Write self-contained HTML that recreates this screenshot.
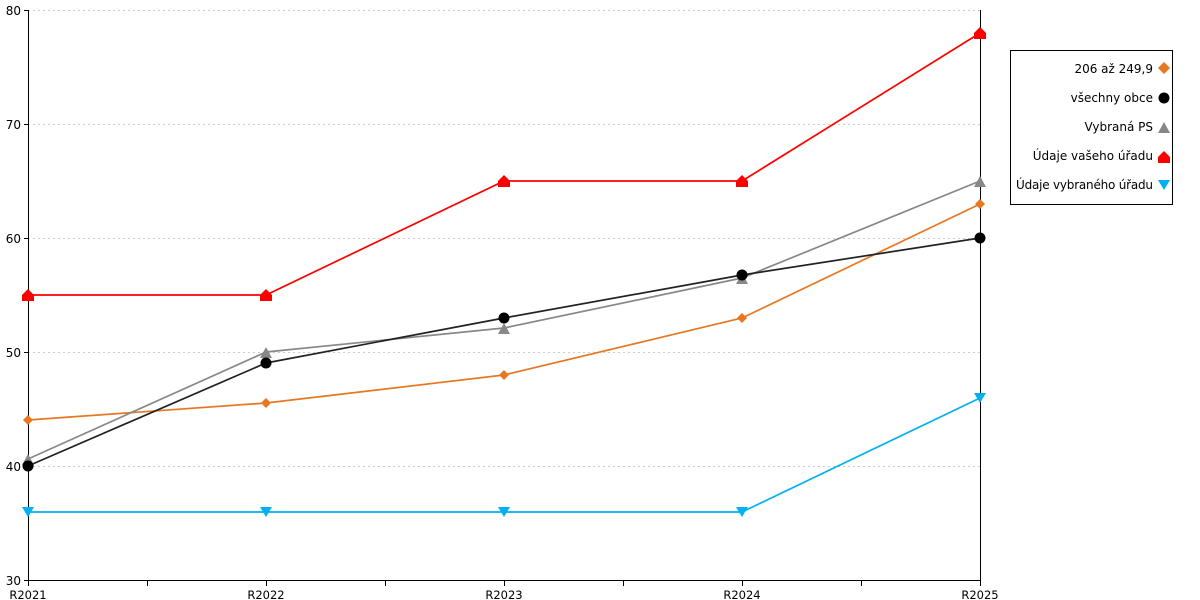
<!DOCTYPE html>
<html><head><meta charset="utf-8"><style>body{margin:0;background:#fff}svg{display:block}text{font-family:"DejaVu Sans","Liberation Sans",sans-serif;font-size:12px;fill:#000}</style></head><body>
<svg width="1200" height="600" xmlns="http://www.w3.org/2000/svg">
<g stroke="#ccc" stroke-dasharray="2,3" stroke-width="1">
<line x1="28" y1="10.5" x2="980" y2="10.5"/><line x1="28" y1="124.5" x2="980" y2="124.5"/><line x1="28" y1="238.5" x2="980" y2="238.5"/><line x1="28" y1="352.5" x2="980" y2="352.5"/><line x1="28" y1="466.5" x2="980" y2="466.5"/>
</g>
<g stroke="#000" stroke-width="1">
<line x1="28.5" y1="10" x2="28.5" y2="586"/><line x1="980.5" y1="10" x2="980.5" y2="586"/><line x1="24" y1="580.5" x2="980" y2="580.5"/>
<line x1="24" y1="10.5" x2="28" y2="10.5"/><line x1="24" y1="124.5" x2="28" y2="124.5"/><line x1="24" y1="238.5" x2="28" y2="238.5"/><line x1="24" y1="352.5" x2="28" y2="352.5"/><line x1="24" y1="466.5" x2="28" y2="466.5"/>
<line x1="147.5" y1="580" x2="147.5" y2="586"/><line x1="266.5" y1="580" x2="266.5" y2="586"/><line x1="385.5" y1="580" x2="385.5" y2="586"/><line x1="504.5" y1="580" x2="504.5" y2="586"/><line x1="623.5" y1="580" x2="623.5" y2="586"/><line x1="742.5" y1="580" x2="742.5" y2="586"/><line x1="861.5" y1="580" x2="861.5" y2="586"/>
</g>
<g text-anchor="end"><text x="21" y="15">80</text><text x="21" y="129">70</text><text x="21" y="243">60</text><text x="21" y="357">50</text><text x="21" y="471">40</text><text x="21" y="585">30</text></g>
<g text-anchor="middle"><text x="28" y="599" style="font-size:11.5px">R2021</text><text x="266" y="599" style="font-size:11.5px">R2022</text><text x="504" y="599" style="font-size:11.5px">R2023</text><text x="742" y="599" style="font-size:11.5px">R2024</text><text x="980" y="599" style="font-size:11.5px">R2025</text></g>
<g fill="none" stroke-width="1.7">
<polyline stroke="#00b0f0" points="28,512 266,512 504,512 742,512 980,398"/>
<polyline stroke="#ff0000" points="28,295 266,295 504,181 742,181 980,33"/>
<polyline stroke="#e87722" points="28,420 266,403 504,375 742,318 980,204"/>
<polyline stroke="#888" points="28,459 266,352 504,328 742,278 980,181"/>
<polyline stroke="#222" points="28,466 266,363 504,318 742,275 980,238"/>
</g>
<g fill="#00b0f0"><path d="M22,507h12l-6,10z"/><path d="M260,507h12l-6,10z"/><path d="M498,507h12l-6,10z"/><path d="M736,507h12l-6,10z"/><path d="M974,393h12l-6,10z"/></g>
<g fill="#ff0000"><path d="M22,301v-6l6,-6l6,6v6z"/><path d="M260,301v-6l6,-6l6,6v6z"/><path d="M498,187v-6l6,-6l6,6v6z"/><path d="M736,187v-6l6,-6l6,6v6z"/><path d="M974,39v-6l6,-6l6,6v6z"/></g>
<g fill="#e87722"><path d="M28,415l5,5l-5,5l-5,-5z"/><path d="M266,398l5,5l-5,5l-5,-5z"/><path d="M504,370l5,5l-5,5l-5,-5z"/><path d="M742,313l5,5l-5,5l-5,-5z"/><path d="M980,199l5,5l-5,5l-5,-5z"/></g>
<g fill="#888"><path d="M22,465l6,-11l6,11z"/><path d="M260,358l6,-11l6,11z"/><path d="M498,334l6,-11l6,11z"/><path d="M736,284l6,-11l6,11z"/><path d="M974,187l6,-11l6,11z"/></g>
<g fill="#000"><circle cx="28" cy="466" r="5.5"/><circle cx="266" cy="363" r="5.5"/><circle cx="504" cy="318" r="5.5"/><circle cx="742" cy="275" r="5.5"/><circle cx="980" cy="238" r="5.5"/></g>
<rect x="1010.5" y="50.5" width="162" height="154" fill="#fff" stroke="#000"/>
<g text-anchor="end"><text x="1153" y="73">206 až 249,9</text><text x="1153" y="102">všechny obce</text><text x="1153" y="131">Vybraná PS</text><text x="1153" y="160">Údaje vašeho úřadu</text><text x="1153" y="189" textLength="137">Údaje vybraného úřadu</text></g>
<path d="M1164,62l6,6l-6,6l-6,-6z" fill="#e87722"/>
<circle cx="1164" cy="98" r="5.5" fill="#000"/>
<path d="M1158,133l6,-11l6,11z" fill="#888"/>
<path d="M1158,163v-6l6,-6l6,6v6z" fill="#ff0000"/>
<path d="M1158,180h12l-6,10z" fill="#00b0f0"/>
</svg>
</body></html>
